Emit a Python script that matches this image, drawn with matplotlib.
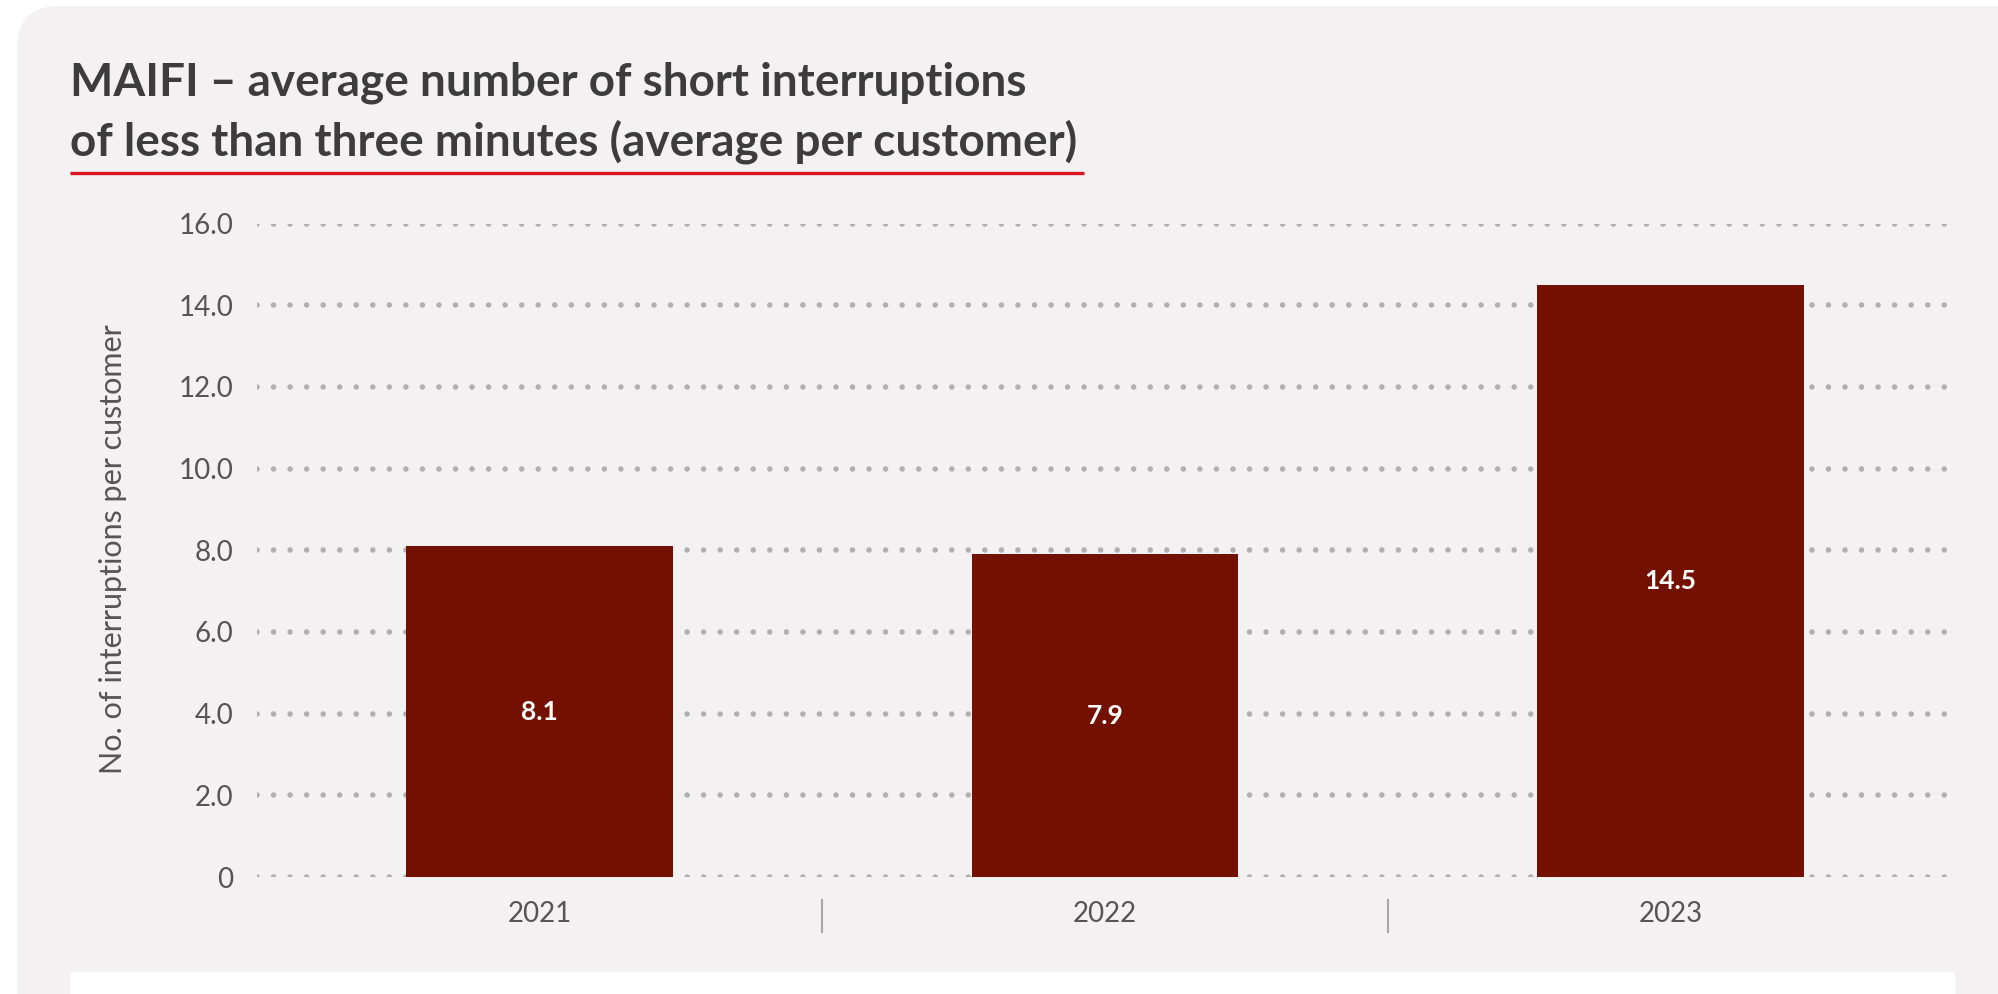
import matplotlib
matplotlib.use("Agg")
import matplotlib.pyplot as plt
from matplotlib.patches import FancyBboxPatch, Rectangle

# MAIFI per year
years = ["2021", "2022", "2023"]
maifi = [8.1, 7.9, 14.5]
y_ticks = [0, 2, 4, 6, 8, 10, 12, 14, 16]
y_tick_labels = ["0", "2.0", "4.0", "6.0", "8.0", "10.0", "12.0", "14.0", "16.0"]

title_lines = ["MAIFI \u2013 average number of short interruptions",
               "of less than three minutes (average per customer)"]
y_label = "No. of interruptions per customer"

W, H = 1999, 994
BG = "#f3f1f2"
BAR = "#741000"
TEXT = "#3c3c3c"
AXTEXT = "#555555"
GRID = "#b0b0b0"

plt.rcParams["lines.scale_dashes"] = False

fig = plt.figure(figsize=(W / 100, H / 100), dpi=100)
fig.patch.set_facecolor("white")

# pixel-space canvas for the card background and title decoration
bg = fig.add_axes([0, 0, 1, 1], zorder=0)
bg.set_xlim(0, W)
bg.set_ylim(H, 0)
bg.axis("off")
bg.add_patch(FancyBboxPatch((17, 6), 2100, 1100,
                            boxstyle="round,pad=0,rounding_size=42",
                            fc=BG, ec="none"))
bg.add_patch(Rectangle((70, 972), 1885, 40, fc="white", ec="none"))
bg.plot([70, 1084], [173, 173], color="#d9141f", lw=2.4, solid_capstyle="butt")

for line, base in zip(title_lines, [95, 155]):
    bg.text(70, base, line, fontsize=33, fontweight="bold",
            family="Lato", color=TEXT, va="baseline", ha="left")

bg.text(113, 549, y_label, rotation=90, fontsize=22, color=AXTEXT,
        family="Lato", ha="center", va="center")

# chart area
ax = fig.add_axes([257 / W, 1 - 877 / H, (1953 - 257) / W, (877 - 223.5) / H],
                  zorder=1)
ax.patch.set_alpha(0)
x = list(range(len(years)))
bars = ax.bar(x, maifi, width=0.472, color=BAR, zorder=3)

for rect, v in zip(bars, maifi):
    ax.text(rect.get_x() + rect.get_width() / 2, v / 2, f"{v:.1f}",
            ha="center", va="center", color="white", fontsize=19,
            fontweight="bold", family="Lato", zorder=4)

ax.set_xlim(-0.5, len(years) - 0.5)
ax.set_ylim(0, 16)
ax.set_xticks(x)
ax.set_xticklabels(years)
ax.set_yticks(y_ticks)
ax.set_yticklabels(y_tick_labels)
ax.tick_params(axis="both", length=0, labelsize=20, labelcolor=AXTEXT)
ax.tick_params(axis="x", pad=17)
ax.tick_params(axis="y", pad=17)
for lbl in ax.get_xticklabels() + ax.get_yticklabels():
    lbl.set_family("Lato")

ax.set_axisbelow(True)
ax.yaxis.grid(True, color=GRID, lw=4, linestyle=(0, (0.01, 11.9)),
              dash_capstyle="round")
ax.xaxis.grid(False)
for s in ax.spines.values():
    s.set_visible(False)

# thin separators between the year groups
for i in range(len(years) - 1):
    ax.plot([i + 0.5, i + 0.5], [-0.035, -0.084], color="#a8a8a8", lw=1.5,
            transform=ax.get_xaxis_transform(), clip_on=False)

fig.savefig("out.png", dpi=100, facecolor=fig.get_facecolor())
